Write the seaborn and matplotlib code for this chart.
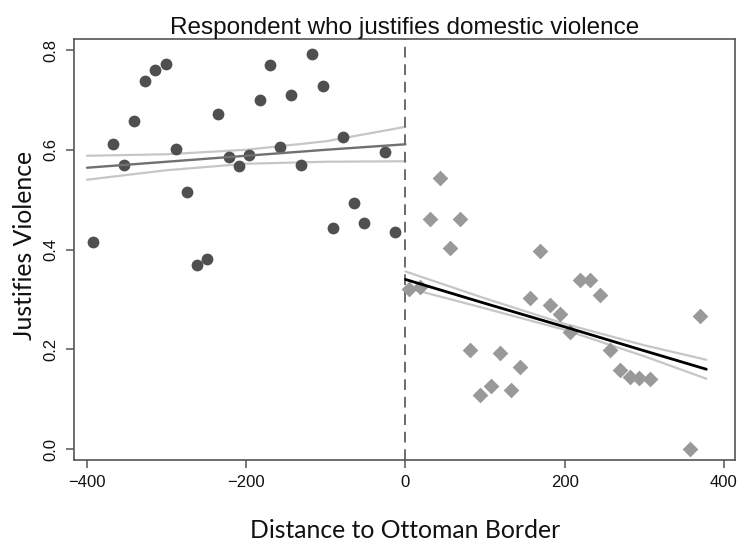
import numpy as np
import pandas as pd
import seaborn as sns
import matplotlib.pyplot as plt

# Binned means west of the border (circles)
west_dist = [-393, -367, -354, -341, -327, -314, -301, -288, -275, -262, -249,
             -236, -222, -209, -196, -183, -170, -157, -144, -131, -117, -104,
             -91, -78, -65, -52, -26, -13]
west_share = [0.415, 0.612, 0.570, 0.657, 0.737, 0.759, 0.772, 0.602, 0.515,
              0.369, 0.381, 0.671, 0.586, 0.567, 0.589, 0.699, 0.769, 0.606,
              0.709, 0.570, 0.793, 0.727, 0.443, 0.625, 0.493, 0.454, 0.595, 0.435]

# Binned means east of the border (diamonds)
east_dist = [5, 18, 31, 44, 56, 69, 81, 94, 107, 119, 132, 144, 157, 169, 182,
             194, 207, 219, 232, 244, 257, 269, 282, 294, 307, 357, 370]
east_share = [0.321, 0.325, 0.462, 0.544, 0.403, 0.461, 0.199, 0.109, 0.127,
              0.193, 0.119, 0.164, 0.303, 0.398, 0.288, 0.271, 0.235, 0.339,
              0.339, 0.308, 0.198, 0.159, 0.145, 0.143, 0.141, 0.0, 0.266]

# Linear fits with 95% bands
west_fit_x = [-400, -300, -200, -100, 0]
west_fit = [0.564, 0.576, 0.588, 0.600, 0.611]
west_hi = [0.588, 0.591, 0.600, 0.617, 0.646]
west_lo = [0.540, 0.559, 0.572, 0.576, 0.577]

east_fit_x = [0, 100, 200, 300, 378]
east_fit = [0.340, 0.292, 0.245, 0.197, 0.160]
east_hi = [0.356, 0.302, 0.251, 0.208, 0.179]
east_lo = [0.324, 0.282, 0.239, 0.186, 0.141]

west = pd.DataFrame({'dist': west_dist, 'share': west_share})
east = pd.DataFrame({'dist': east_dist, 'share': east_share})

sns.set_theme(style="ticks")
plt.rcParams['font.family'] = ['Liberation Sans', 'DejaVu Sans']

fig = plt.figure(figsize=(7.44, 5.47), dpi=100)
ax = fig.add_axes([74.3 / 744, 1 - 460 / 547, 660.7 / 744, 420.7 / 547])

band = '#c6c6c6'
sns.lineplot(x=west_fit_x, y=west_hi, color=band, lw=1.6, ax=ax)
sns.lineplot(x=west_fit_x, y=west_lo, color=band, lw=1.6, ax=ax)
sns.lineplot(x=east_fit_x, y=east_hi, color=band, lw=1.6, ax=ax)
sns.lineplot(x=east_fit_x, y=east_lo, color=band, lw=1.6, ax=ax)

sns.scatterplot(data=west, x='dist', y='share', marker='o', s=72,
                color='#4f4f4f', linewidth=0, ax=ax, zorder=3)
sns.scatterplot(data=east, x='dist', y='share', marker='D', s=64,
                color='#999999', linewidth=0, ax=ax, zorder=3)

sns.lineplot(x=west_fit_x, y=west_fit, color='#707070', lw=1.7, ax=ax, zorder=4)
sns.lineplot(x=east_fit_x, y=east_fit, color='black', lw=2.0, ax=ax, zorder=4)

ax.axvline(0, color='#6a6a6a', lw=1.4, ls=(0, (5.5, 3.5)), zorder=2)

ax.set_xlim(-416, 414)
ax.set_ylim(-0.022, 0.8215)
ax.set_xticks([-400, -200, 0, 200, 400])
ax.set_yticks([0.0, 0.2, 0.4, 0.6, 0.8])
ax.set_yticklabels(['0.0', '0.2', '0.4', '0.6', '0.8'], rotation=90, va='center')

for side in ['top', 'right', 'left', 'bottom']:
    ax.spines[side].set_visible(True)
    ax.spines[side].set_color('#555555')
    ax.spines[side].set_linewidth(1.2)
ax.tick_params(axis='both', direction='out', length=5.5, width=1.1,
               color='#555555', labelsize=12, labelcolor='#111111')
ax.tick_params(axis='y', pad=6)
ax.tick_params(axis='x', pad=5)

ax.set_title('Respondent who justifies domestic violence', fontsize=17.5,
             color='#111111', pad=4)
ax.set_xlabel('Distance to Ottoman Border', family='Lato', fontsize=17.8,
              color='#111111')
ax.set_ylabel('Justifies Violence', family='Lato', fontsize=17.8, color='#111111')
ax.xaxis.set_label_coords(0.5, -0.14)
ax.yaxis.set_label_coords(-0.058, 0.51)

fig.savefig('out.png', dpi=100)
